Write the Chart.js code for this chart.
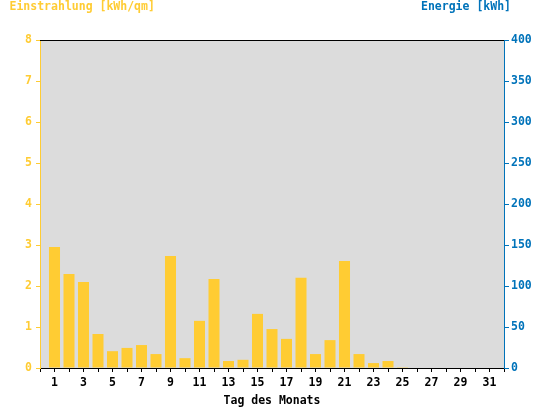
<!DOCTYPE html>
<html>
<head>
<meta charset="utf-8">
<script src="https://cdn.jsdelivr.net/npm/chart.js@4/dist/chart.umd.min.js"></script>
<style>
  body { margin: 0; background: #fff; }
</style>
</head>
<body>
<canvas id="graphique" width="544" height="408"></canvas>
<script>
// Werte
const tage = [1,2,3,4,5,6,7,8,9,10,11,12,13,14,15,16,17,18,19,20,21,22,23,24,25,26,27,28,29,30,31];
const einstrahlung = [2.95,2.29,2.10,0.83,0.41,0.49,0.56,0.34,2.73,0.24,1.15,2.17,0.17,0.20,1.32,0.95,0.71,2.20,0.34,0.68,2.61,0.34,0.12,0.17,0.02,0,0,0,0,0,0];
const titelLinks = "Einstrahlung [kWh/qm]";
const titelRechts = "Energie [kWh]";
const titelX = "Tag des Monats";

const gelb = "#FFCC33";
const blau = "#0073BA";
const schrift = { family: '"DejaVu Sans Mono", monospace', size: 11.5, weight: 'bold' };

// Hintergrund der Zeichenfläche + Titel oben
const hintergrund = {
  id: 'hintergrund',
  beforeDraw(chart) {
    const { ctx, chartArea: a } = chart;
    ctx.save();
    ctx.fillStyle = "#DCDCDC";
    ctx.fillRect(a.left, a.top, a.right - a.left, a.bottom - a.top);
    ctx.restore();
  },
  afterDraw(chart) {
    const { ctx, chartArea: a } = chart;
    ctx.save();
    ctx.strokeStyle = "#000";
    ctx.lineWidth = 1;
    ctx.beginPath();
    ctx.moveTo(a.left, a.top + 0.5);
    ctx.lineTo(a.right, a.top + 0.5);
    ctx.stroke();
    ctx.font = 'bold 11.5px "DejaVu Sans Mono", monospace';
    ctx.textBaseline = 'middle';
    ctx.fillStyle = gelb;
    ctx.textAlign = 'left';
    ctx.fillText(titelLinks, 9.5, 7.5);
    ctx.fillStyle = blau;
    ctx.textAlign = 'right';
    ctx.fillText(titelRechts, 511, 7.5);
    ctx.restore();
  }
};

const data = {
  datasets: [{
    label: titelLinks,
    data: tage.map((t, i) => ({ x: t, y: einstrahlung[i] })),
    backgroundColor: gelb,
    borderWidth: 0,
    yAxisID: 'y',
    categoryPercentage: 1,
    barPercentage: 0.76,
  }],
};

const config = {
  type: 'bar',
  data: data,
  plugins: [hintergrund],
  options: {
    responsive: false,
    animation: false,
    layout: { padding: { top: 40, left: 0, right: 0, bottom: 0 } },
    plugins: { legend: { display: false }, tooltip: { enabled: false } },
    scales: {
      x: {
        type: 'linear',
        min: 0,
        max: 32,
        offset: false,
        afterFit: (s) => { s.height = 40; },
        grid: { offset: false, drawOnChartArea: false, color: '#000', tickLength: 4 },
        border: { color: '#000', width: 1 },
        ticks: {
          stepSize: 1,
          autoSkip: false,
          maxRotation: 0,
          color: '#000',
          font: schrift,
          padding: 4,
          callback: (v) => (v % 2 === 1 ? String(v) : ''),
        },
        title: { display: true, text: titelX, color: '#000', font: schrift, padding: { top: 0, bottom: 0 } },
      },
      y: {
        position: 'left',
        min: 0,
        max: 8,
        afterFit: (s) => { s.width = 40; },
        grid: { drawOnChartArea: false, color: gelb, tickLength: 4 },
        border: { color: gelb },
        ticks: { stepSize: 1, color: gelb, font: schrift, padding: 4 },
      },
      y1: {
        position: 'right',
        min: 0,
        max: 400,
        afterFit: (s) => { s.width = 40; },
        grid: { drawOnChartArea: false, color: blau, tickLength: 5 },
        border: { color: blau },
        ticks: { stepSize: 50, color: blau, font: schrift, padding: 2 },
      },
    },
  },
};

const graphique = new Chart(document.querySelector('#graphique'), config);
</script>
</body>
</html>
